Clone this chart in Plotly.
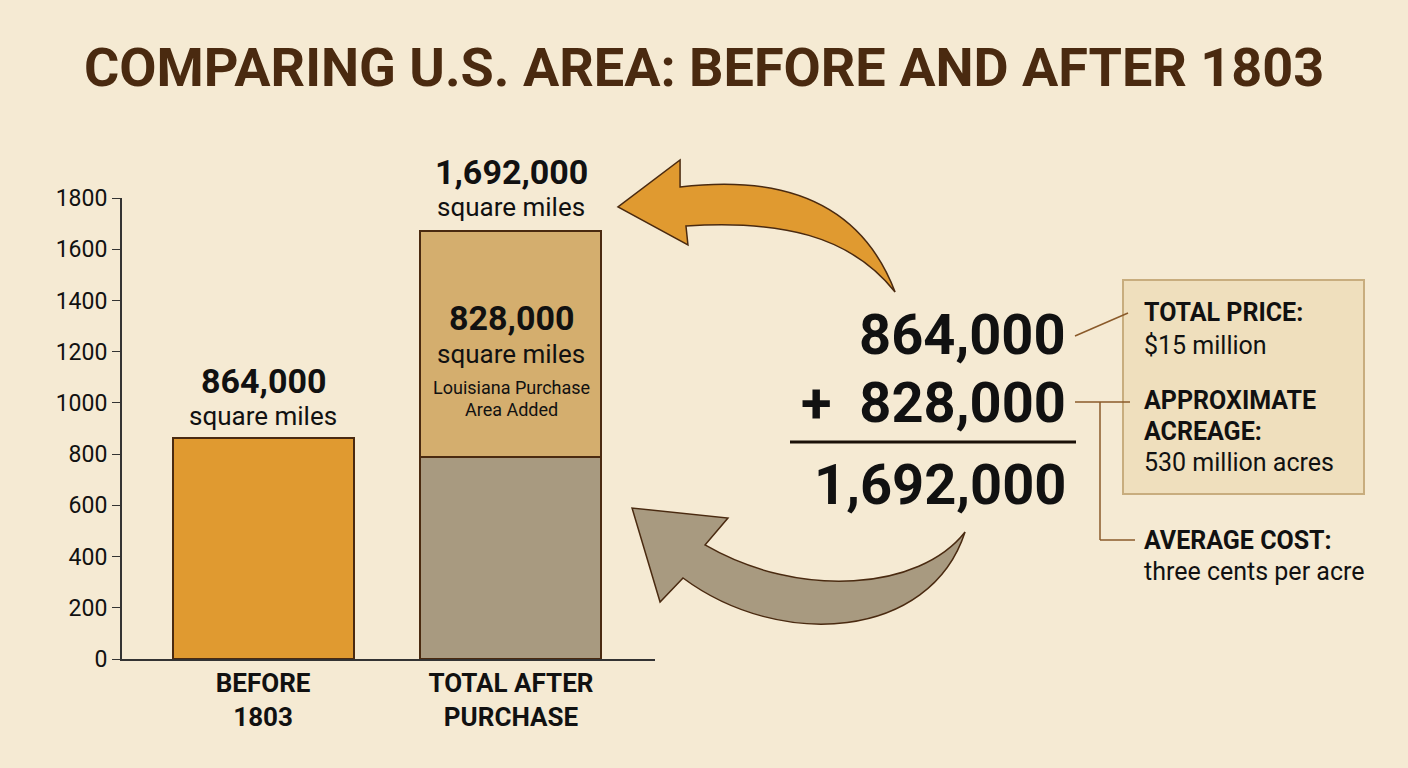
import plotly.graph_objects as go

W, H = 1408, 768
categories = ["BEFORE<br>1803", "TOTAL AFTER<br>PURCHASE"]
before_vals = [864, 0]
base_vals = [0, 790]
added_vals = [0, 880]
yticks = [0, 200, 400, 600, 800, 1000, 1200, 1400, 1600, 1800]

BROWN = "#4a2a10"
ORANGE = "#e09a30"
GRAY = "#a89a80"
TAN = "#d4ae6e"
FONT = "Roboto"

def px(x): return x / W
def py(y): return 1 - y / H

fig = go.Figure()
fig.add_bar(x=[0, 1], y=before_vals, width=0.73, marker=dict(color=ORANGE, line=dict(color=BROWN, width=2)))
fig.add_bar(x=[0, 1], y=base_vals, width=0.73, marker=dict(color=GRAY, line=dict(color=BROWN, width=2)))
fig.add_bar(x=[0, 1], y=added_vals, width=0.73, marker=dict(color=TAN, line=dict(color=BROWN, width=2)))

def path(pts):
    s = ""
    for cmd, coords in pts:
        s += cmd + " " + " ".join(f"{px(coords[i]):.4f},{py(coords[i+1]):.4f}" for i in range(0, len(coords), 2)) + " "
    return s + "Z"

shapes = []
top_arrow = path([("M", (680, 187)), ("C", (780, 175, 860, 200, 895, 292)),
                  ("C", (850, 235, 780, 220, 686, 226)), ("L", (688, 245)),
                  ("L", (618, 207)), ("L", (680, 160))])
shapes.append(dict(type="path", path=top_arrow, xref="paper", yref="paper",
                   fillcolor=ORANGE, line=dict(color=BROWN, width=1.5)))
bot_arrow = path([("M", (965, 532)), ("C", (930, 640, 780, 650, 683, 578)),
                  ("L", (660, 602)), ("L", (632, 508)), ("L", (728, 518)),
                  ("L", (705, 545)), ("C", (800, 600, 920, 590, 965, 532))])
shapes.append(dict(type="path", path=bot_arrow, xref="paper", yref="paper",
                   fillcolor=GRAY, line=dict(color=BROWN, width=1.5)))
shapes.append(dict(type="rect", xref="paper", yref="paper", x0=px(1123), x1=px(1364), y0=py(494), y1=py(280),
                   fillcolor="#efdfbd", line=dict(color="#c8ad7e", width=2)))
shapes.append(dict(type="line", xref="paper", yref="paper", x0=px(790), x1=px(1076), y0=py(442), y1=py(442),
                   line=dict(color="#1a1008", width=3)))
for (x0, y0, x1, y1) in [(1075, 336, 1128, 313), (1075, 402, 1130, 402), (1100, 402, 1100, 540), (1100, 540, 1135, 540)]:
    shapes.append(dict(type="line", xref="paper", yref="paper", x0=px(x0), x1=px(x1), y0=py(y0), y1=py(y1),
                       line=dict(color="#8a5a2a", width=1.5)))

ann = []
def txt(x, y, t, size, bold=False, color="#111", anchor="center"):
    ann.append(dict(xref="paper", yref="paper", x=px(x), y=py(y), text=f"<b>{t}</b>" if bold else t,
                    showarrow=False, xanchor=anchor, yanchor="middle",
                    font=dict(family=FONT, size=size, color=color)))

txt(704, 68, "COMPARING U.S. AREA: BEFORE AND AFTER 1803", 54, True, BROWN)
txt(263, 381, "864,000", 34, True)
txt(263, 416, "square miles", 26)
txt(511, 172, "1,692,000", 34, True)
txt(511, 207, "square miles", 26)
txt(511, 318, "828,000", 34, True)
txt(511, 354, "square miles", 26)
txt(511, 387, "Louisiana Purchase", 18)
txt(511, 409, "Area Added", 18)
txt(1068, 335, "864,000", 56, True, anchor="right")
txt(1068, 403, "+  828,000", 56, True, anchor="right")
txt(1068, 485, "1,692,000", 56, True, anchor="right")
txt(1142, 313, "TOTAL PRICE:", 25, True, anchor="left")
txt(1142, 345, "$15 million", 25, anchor="left")
txt(1142, 400, "APPROXIMATE", 25, True, anchor="left")
txt(1142, 431, "ACREAGE:", 25, True, anchor="left")
txt(1142, 462, "530 million acres", 25, anchor="left")
txt(1142, 540, "AVERAGE COST:", 25, True, anchor="left")
txt(1142, 571, "three cents per acre", 25, anchor="left")

fig.update_layout(
    width=W, height=H, barmode="stack", showlegend=False,
    paper_bgcolor="#f5ead3", plot_bgcolor="rgba(0,0,0,0)",
    margin=dict(l=0, r=0, t=0, b=0, autoexpand=False), shapes=shapes, annotations=ann,
    xaxis=dict(domain=[px(122), px(655)], range=[-0.569, 1.581], tickvals=[0, 1], automargin=False,
               ticktext=[f"<b>{c}</b>" for c in categories], showgrid=False, zeroline=False,
               showline=True, linecolor="#333", linewidth=2, ticks="",
               tickfont=dict(family=FONT, size=26, color="#111")),
    yaxis=dict(domain=[py(659), py(198)], range=[0, 1800], tickvals=yticks, showgrid=False, automargin=False,
               zeroline=False, showline=True, linecolor="#333", linewidth=2, ticks="outside",
               ticklen=8, tickcolor="#333", tickfont=dict(family=FONT, size=23, color="#111")),
)
fig.write_html("out.html", config={"displayModeBar": False},
               post_script="document.body.style.margin='0';document.body.style.overflow='hidden';document.body.style.background='#f5ead3';")
